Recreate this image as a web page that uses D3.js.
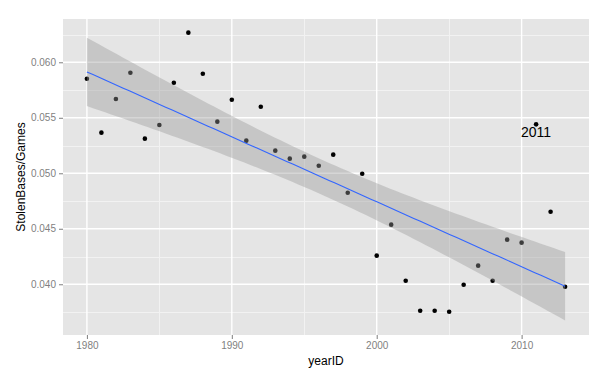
<!DOCTYPE html>
<html>
<head>
<meta charset="utf-8">
<script src="https://cdn.jsdelivr.net/npm/d3@7"></script>
<style>
  html, body { margin: 0; padding: 0; background: #ffffff; }
  svg { display: block; font-family: "Liberation Sans", Arial, sans-serif; }
</style>
</head>
<body>
<svg id="chart" width="609" height="380"></svg>
<script>
// ---- data ----
const yearID = [1980,1981,1982,1983,1984,1985,1986,1987,1988,1989,
                1990,1991,1992,1993,1994,1995,1996,1997,1998,1999,
                2000,2001,2002,2003,2004,2005,2006,2007,2008,2009,
                2010,2011,2012,2013];
const stolenBasesPerGame = [0.05852,0.05366,0.05669,0.05906,0.05312,0.05435,0.05816,0.06267,0.05897,0.05465,
                            0.05663,0.05294,0.05600,0.05204,0.05132,0.05150,0.05068,0.05168,0.04825,0.04996,
                            0.04258,0.04537,0.04032,0.03762,0.03762,0.03753,0.03996,0.04168,0.04032,0.04402,
                            0.04375,0.05441,0.04654,0.03978];
const xTicks = [1980, 1990, 2000, 2010];
const xMinor = [1985, 1995, 2005];
const yTicks = [0.040, 0.045, 0.050, 0.055, 0.060];
const yMinor = [0.0375, 0.0425, 0.0475, 0.0525, 0.0575, 0.0625];
const labelYear = [2011];
const labelText = ["2011"];
const xDomain = [1978.35, 2014.65];
const yDomain = [0.03543, 0.0639];

// ---- layout ----
const svg = d3.select("#chart");
const P = { left: 63, right: 589, top: 19, bottom: 335 };
const x = d3.scaleLinear().domain(xDomain).range([P.left, P.right]);
const y = d3.scaleLinear().domain(yDomain).range([P.bottom, P.top]);

// panel
svg.append("rect").attr("x", P.left).attr("y", P.top)
  .attr("width", P.right - P.left).attr("height", P.bottom - P.top)
  .attr("fill", "#E5E5E5");

// minor grid
const g = svg.append("g");
g.selectAll(".ymin").data(yMinor).enter().append("line")
  .attr("x1", P.left).attr("x2", P.right)
  .attr("y1", d => Math.round(y(d)) + 0.5).attr("y2", d => Math.round(y(d)) + 0.5)
  .attr("stroke", "#F2F2F2").attr("stroke-width", 1);
g.selectAll(".xmin").data(xMinor).enter().append("line")
  .attr("y1", P.top).attr("y2", P.bottom)
  .attr("x1", d => Math.round(x(d)) + 0.5).attr("x2", d => Math.round(x(d)) + 0.5)
  .attr("stroke", "#F2F2F2").attr("stroke-width", 1);
// major grid
g.selectAll(".ymaj").data(yTicks).enter().append("line")
  .attr("x1", P.left).attr("x2", P.right)
  .attr("y1", d => y(d)).attr("y2", d => y(d))
  .attr("stroke", "#FFFFFF").attr("stroke-width", 1.4);
g.selectAll(".xmaj").data(xTicks).enter().append("line")
  .attr("y1", P.top).attr("y2", P.bottom)
  .attr("x1", d => x(d)).attr("x2", d => x(d))
  .attr("stroke", "#FFFFFF").attr("stroke-width", 1.4);

// points (drawn before smooth, as in ggplot)
const pts = yearID.map((yr, i) => ({ yr, v: stolenBasesPerGame[i] }));
svg.append("g").selectAll("circle").data(pts).enter().append("circle")
  .attr("cx", d => x(d.yr)).attr("cy", d => y(d.v)).attr("r", 2.3)
  .attr("fill", "#000000");

// linear fit with 95% confidence band (lm)
const n = pts.length;
const mx = d3.mean(pts, d => d.yr), my = d3.mean(pts, d => d.v);
const sxx = d3.sum(pts, d => (d.yr - mx) ** 2);
const sxy = d3.sum(pts, d => (d.yr - mx) * (d.v - my));
const b1 = sxy / sxx, b0 = my - b1 * mx;
const sse = d3.sum(pts, d => (d.v - (b0 + b1 * d.yr)) ** 2);
const s = Math.sqrt(sse / (n - 2));
const tq = 2.0369; // t(0.975, df=32)
const xs = d3.range(80).map(i => yearID[0] + i * (yearID[n - 1] - yearID[0]) / 79);
const fit = xs.map(xx => {
  const f = b0 + b1 * xx;
  const se = s * Math.sqrt(1 / n + (xx - mx) ** 2 / sxx);
  return { xx, f, lo: f - tq * se, hi: f + tq * se };
});
svg.append("path").datum(fit)
  .attr("d", d3.area().x(d => x(d.xx)).y0(d => y(d.lo)).y1(d => y(d.hi)))
  .attr("fill", "#999999").attr("fill-opacity", 0.4);
svg.append("path").datum(fit)
  .attr("d", d3.line().x(d => x(d.xx)).y(d => y(d.f)))
  .attr("fill", "none").attr("stroke", "#3366FF").attr("stroke-width", 1.1);

// annotation
svg.append("g").selectAll("text").data(labelYear).enter().append("text")
  .attr("x", d => x(d))
  .attr("y", (d, i) => y(stolenBasesPerGame[yearID.indexOf(d)]) + 13)
  .attr("text-anchor", "middle").attr("font-size", 14).attr("fill", "#000000")
  .text((d, i) => labelText[i]);

// axes
const xAxis = d3.axisBottom(x).tickValues(xTicks).tickFormat(d3.format("d")).tickSize(4).tickPadding(3);
const yAxis = d3.axisLeft(y).tickValues(yTicks).tickFormat(d3.format(".3f")).tickSize(4).tickPadding(3);
const gx = svg.append("g").attr("transform", `translate(0,${P.bottom})`).call(xAxis);
const gy = svg.append("g").attr("transform", `translate(${P.left},0)`).call(yAxis);
[gx, gy].forEach(a => {
  a.select(".domain").remove();
  a.selectAll(".tick line").attr("stroke", "#7F7F7F");
  a.selectAll(".tick text").attr("fill", "#7F7F7F").attr("font-size", 10)
    .attr("font-family", "Liberation Sans, Arial, sans-serif");
});

// axis titles
svg.append("text").attr("x", (P.left + P.right) / 2).attr("y", 365)
  .attr("text-anchor", "middle").attr("font-size", 12).attr("fill", "#000000")
  .text("yearID");
svg.append("text")
  .attr("transform", `translate(24.5,${(P.top + P.bottom) / 2}) rotate(-90)`)
  .attr("text-anchor", "middle").attr("font-size", 12).attr("fill", "#000000")
  .text("StolenBases/Games");
</script>
</body>
</html>
